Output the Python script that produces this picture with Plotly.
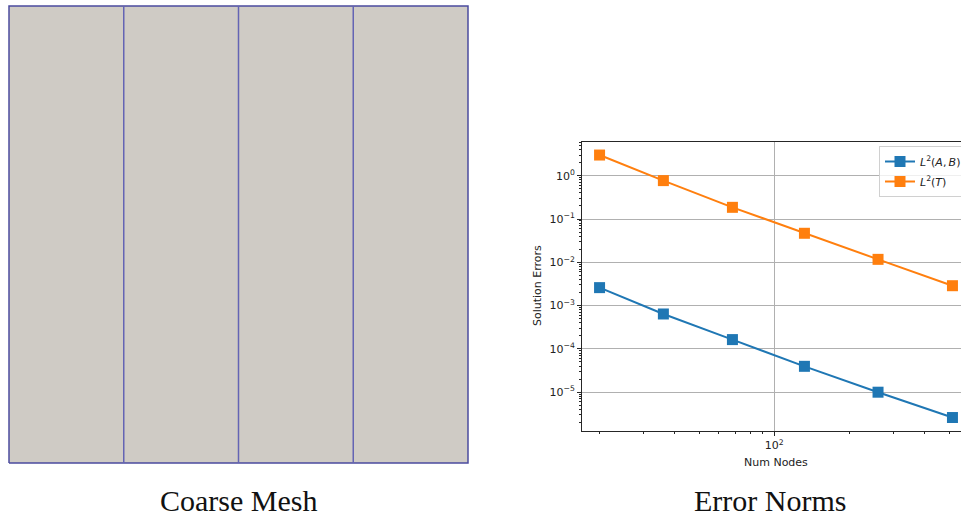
import plotly.graph_objects as go

# ---- data ----
mesh_x = [0, 1, 2, 3, 4]          # element boundaries of the coarse mesh
mesh_y = [0, 1]

num_nodes = [20, 36, 68, 132, 260, 516]
err_ab = [2.6e-3, 6.4e-4, 1.64e-4, 3.96e-5, 1.0e-5, 2.6e-6]
err_t = [3.0, 0.77, 0.186, 0.0468, 0.0117, 0.00288]

series_names = ["<i>L</i><sup>2</sup>(<i>A</i>,\u2009<i>B</i>)",
                "<i>L</i><sup>2</sup>(<i>T</i>)"]
series_colors = ["#1f77b4", "#ff7f0e"]

y_tickvals = [1, 1e-1, 1e-2, 1e-3, 1e-4, 1e-5]
y_ticktext = ["10<sup>0</sup>", "10<sup>\u22121</sup>", "10<sup>\u22122</sup>",
              "10<sup>\u22123</sup>", "10<sup>\u22124</sup>", "10<sup>\u22125</sup>"]
x_tickvals = [100]
x_ticktext = ["10<sup>2</sup>"]

captions = ["Coarse Mesh", "Error Norms"]
x_title = "Num Nodes"
y_title = "Solution Errors"

W, H = 961, 517

def px_x(p):
    return p / W

def px_y(p):
    return 1 - p / H

fig = go.Figure()

# ---- mesh (left panel) ----
x0, x1 = mesh_x[0], mesh_x[-1]
y0, y1 = mesh_y[0], mesh_y[-1]
fig.add_trace(go.Scatter(
    x=[x0, x1, x1, x0, x0], y=[y0, y0, y1, y1, y0],
    mode="lines", fill="toself", fillcolor="#CFCBC5",
    line=dict(color="#4B4B9E", width=1.5),
    xaxis="x2", yaxis="y2", showlegend=False, hoverinfo="skip"))
lx, ly = [], []
for xv in mesh_x[1:-1]:
    lx += [xv, xv, None]
    ly += [y0, y1, None]
fig.add_trace(go.Scatter(
    x=lx, y=ly, mode="lines", line=dict(color="#6464B4", width=1.5),
    xaxis="x2", yaxis="y2", showlegend=False, hoverinfo="skip"))

# ---- error norms (right panel) ----
for i, (name, vals, col) in enumerate(zip(series_names, [err_ab, err_t], series_colors)):
    fig.add_trace(go.Scatter(
        x=num_nodes, y=vals, name=name, mode="lines+markers",
        legendgroup=f"g{i}",
        line=dict(color=col, width=2),
        marker=dict(symbol="square", size=11, color=col),
        xaxis="x", yaxis="y"))

ax_px_left, ax_px_top, ax_px_bottom = 582, 142, 431
dec_x = 250.0
x10_2 = 774.3
xr_lo = 2 + (ax_px_left - x10_2) / dec_x
xr_hi = 2 + (W - x10_2) / dec_x

dec_y = 43.3
y10_0 = 175.7
yr_hi = (y10_0 - ax_px_top) / dec_y
yr_lo = (y10_0 - ax_px_bottom) / dec_y

x_minor = [m * 10 ** e for e in (1, 2) for m in range(2, 10)]
y_minor = [m * 10 ** e for e in range(-7, 1) for m in range(2, 10)]

tick_font = dict(family="DejaVu Sans", size=11, color="#222222")
spine = "#262626"

fig.update_layout(
    width=W, height=H, autosize=False,
    margin=dict(l=0, r=0, t=0, b=0, autoexpand=False),
    paper_bgcolor="white", plot_bgcolor="white",
    xaxis=dict(
        type="log", domain=[px_x(ax_px_left), 1.0], range=[xr_lo, xr_hi],
        tickmode="array", tickvals=x_tickvals, ticktext=x_ticktext,
        ticks="outside", ticklen=4, tickwidth=1, tickcolor=spine,
        showline=True, linecolor=spine, linewidth=1, mirror=True,
        showgrid=True, gridcolor="#b0b0b0", gridwidth=1,
        zeroline=False, tickfont=tick_font, anchor="y",
        minor=dict(tickmode="array", tickvals=x_minor, ticks="outside",
                   ticklen=2, tickwidth=1, tickcolor=spine, showgrid=False),
    ),
    yaxis=dict(
        type="log", domain=[px_y(ax_px_bottom), px_y(ax_px_top)],
        range=[yr_lo, yr_hi],
        tickmode="array", tickvals=y_tickvals, ticktext=y_ticktext,
        ticks="outside", ticklen=4, tickwidth=1, tickcolor=spine,
        showline=True, linecolor=spine, linewidth=1, mirror=True,
        showgrid=True, gridcolor="#b0b0b0", gridwidth=1,
        zeroline=False, tickfont=tick_font, anchor="x",
        minor=dict(tickmode="array", tickvals=y_minor, ticks="outside",
                   ticklen=2, tickwidth=1, tickcolor=spine, showgrid=False),
    ),
    xaxis2=dict(
        domain=[px_x(9 - 1.15), px_x(468 + 1.15)], range=[-0.01, 4.01],
        visible=False, anchor="y2", fixedrange=True),
    yaxis2=dict(
        domain=[px_y(463 + 1.4), px_y(6 - 1.4)], range=[-0.003, 1.003],
        visible=False, anchor="x2", fixedrange=True),
    legend=dict(
        x=px_x(879), y=px_y(146), xanchor="left", yanchor="top",
        bgcolor="rgba(255,255,255,0.8)", bordercolor="#d0d0d0", borderwidth=1,
        font=dict(family="DejaVu Sans", size=11, color="#222222"),
        tracegroupgap=1, itemwidth=30,
    ),
    showlegend=True,
)

annotations = [
    dict(text=x_title, x=px_x(776), y=px_y(462), xref="paper", yref="paper",
         showarrow=False, font=dict(family="DejaVu Sans", size=11, color="#222222"),
         xanchor="center", yanchor="middle"),
    dict(text=y_title, x=px_x(537), y=px_y(286), xref="paper", yref="paper",
         showarrow=False, textangle=-90,
         font=dict(family="DejaVu Sans", size=11, color="#222222"),
         xanchor="center", yanchor="middle"),
    dict(text=captions[0], x=px_x(238), y=px_y(500), xref="paper", yref="paper",
         showarrow=False, font=dict(family="Liberation Serif", size=30, color="#111111"),
         xanchor="center", yanchor="middle"),
    dict(text=captions[1], x=px_x(770), y=px_y(500), xref="paper", yref="paper",
         showarrow=False, font=dict(family="Liberation Serif", size=30, color="#111111"),
         xanchor="center", yanchor="middle"),
]
fig.update_layout(annotations=annotations)

post_js = (
    "document.documentElement.style.margin='0';"
    "document.documentElement.style.overflow='hidden';"
    "document.body.style.margin='0';"
    "document.body.style.overflow='hidden';"
)

fig.write_html(
    "out.html",
    config={"responsive": False, "displayModeBar": False},
    post_script=post_js,
)
